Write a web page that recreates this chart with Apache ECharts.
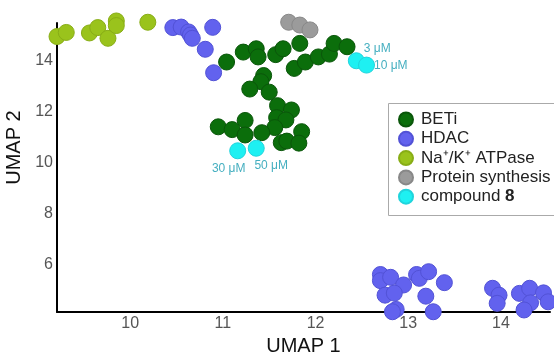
<!DOCTYPE html>
<html>
<head>
<meta charset="utf-8">
<script src="https://cdn.jsdelivr.net/npm/echarts@6/dist/echarts.min.js"></script>
<style>
    html, body { margin: 0; padding: 0; background: #fff; }
    #chartWrap { width: 554px; height: 356px; }
</style>
</head>
<body>
<div id="chartWrap"></div>
<script>
// UMAP coordinates
const betiPoints = [
    [11.04, 13.96], [11.22, 14.35], [11.36, 14.48], [11.38, 14.16], [11.57, 14.25],
    [11.65, 14.48], [11.83, 14.69], [11.77, 13.71], [11.89, 13.96], [12.03, 14.16],
    [12.15, 14.27], [12.20, 14.69], [12.34, 14.56], [11.44, 13.43], [11.41, 13.19],
    [11.29, 12.90], [11.50, 12.78], [11.59, 12.25], [11.74, 12.08], [11.58, 11.78],
    [11.68, 11.69], [11.56, 11.39], [11.24, 11.67], [10.95, 11.42], [11.10, 11.31],
    [11.24, 11.10], [11.42, 11.19], [11.63, 10.80], [11.69, 10.86], [11.85, 11.23],
    [11.82, 10.78]
];
const hdacPoints = [
    [10.46, 15.31], [10.55, 15.33], [10.63, 15.14], [10.65, 15.02], [10.67, 14.89],
    [10.89, 15.32], [10.81, 14.46], [10.90, 13.54],
    [12.70, 5.63], [12.70, 5.39], [12.81, 5.52], [12.95, 5.22], [13.09, 5.63],
    [13.12, 5.48], [13.22, 5.74], [13.39, 5.31], [12.75, 4.82], [12.85, 4.90],
    [13.19, 4.78], [12.87, 4.26], [12.83, 4.17], [13.27, 4.17],
    [13.91, 5.09], [13.98, 4.82], [13.96, 4.50], [14.20, 4.89], [14.31, 5.09],
    [14.32, 4.52], [14.25, 4.24], [14.46, 4.91], [14.51, 4.56]
];
const naKPoints = [
    [9.21, 14.96], [9.31, 15.12], [9.56, 15.10], [9.65, 15.31], [9.76, 14.89],
    [9.85, 15.57], [9.85, 15.39], [10.19, 15.52]
];
const proteinPoints = [[11.71, 15.52], [11.83, 15.41], [11.94, 15.22]];
const compoundPoints = [[12.44, 14.01], [12.55, 13.84], [11.16, 10.48], [11.36, 10.58]];
const doseLabels = ['3 μM', '10 μM', '30 μM', '50 μM'];

const xTicks = [10, 11, 12, 13, 14];
const yTicks = [6, 8, 10, 12, 14];

const seriesNames = ['BETi', 'HDAC', 'Na⁺/K⁺ ATPase', 'Protein synthesis', 'compound 8'];

const font = 'Liberation Sans, Arial, sans-serif';
const myChart = echarts.init(document.getElementById('chartWrap'));

function dots(name, data, fill, edge) {
    return {
        name: name,
        type: 'scatter',
        data: data,
        symbolSize: 16,
        clip: false,
        itemStyle: {color: fill, borderColor: edge, borderWidth: 1, opacity: 1},
        emphasis: {disabled: true}
    };
}

// label placement for the dose labels (3, 10, 30, 50 uM)
const labelPlace = [
    {position: 'right', distance: 0, offset: [-1, -12]},
    {position: 'right', distance: 0, offset: [-1, 1]},
    {position: 'bottom', distance: 3, offset: [-9, 0]},
    {position: 'bottom', distance: 3, offset: [15, 0]}
];
const compoundData = compoundPoints.map(function (p, i) {
    return {
        value: p,
        label: Object.assign({
            show: true,
            formatter: doseLabels[i],
            color: '#45afc0',
            fontSize: 12,
            fontFamily: font
        }, labelPlace[i])
    };
});

const option = {
    animation: false,
    backgroundColor: '#fff',
    grid: {left: 57, right: 4, top: 23, bottom: 44, containLabel: false, outerBoundsMode: 'none'},
    // legend frame runs past the right edge of the picture
    graphic: [{
        type: 'rect',
        left: 388,
        top: 103,
        shape: {width: 200, height: 112},
        style: {fill: '#fff', stroke: '#aaa', lineWidth: 1},
        z: 3
    }],
    xAxis: {
        type: 'value',
        min: 9.21,
        max: 14.53,
        name: 'UMAP 1',
        nameLocation: 'middle',
        nameGap: 19,
        nameTextStyle: {color: '#111', fontSize: 20, fontFamily: font},
        axisLine: {show: true, lineStyle: {color: '#000', width: 2}},
        axisTick: {show: false},
        splitLine: {show: false},
        axisLabel: {customValues: xTicks, color: '#555', fontSize: 16, fontFamily: font, margin: 4}
    },
    yAxis: {
        type: 'value',
        min: 4.16,
        max: 15.49,
        name: 'UMAP 2',
        nameLocation: 'middle',
        nameGap: 27,
        nameTextStyle: {color: '#111', fontSize: 20, fontFamily: font, padding: [0, 0, 0, 40]},
        axisLine: {show: true, lineStyle: {color: '#000', width: 2}},
        axisTick: {show: false},
        splitLine: {show: false},
        axisLabel: {customValues: yTicks, color: '#555', fontSize: 16, fontFamily: font, margin: 4}
    },
    legend: {
        data: seriesNames,
        orient: 'vertical',
        left: 388,
        top: 103,
        z: 4,
        padding: [8, 0, 10, 10],
        itemWidth: 14,
        itemHeight: 14,
        itemGap: 2.3,
        selectedMode: false,
        icon: 'circle',
        formatter: function (name) {
            return name === 'compound 8' ? 'compound {b|8}' : name;
        },
        textStyle: {
            color: '#222',
            fontSize: 17,
            fontFamily: font,
            lineHeight: 17,
            padding: [0, 0, 0, 3],
            rich: {b: {fontWeight: 'bold', fontSize: 17, fontFamily: font, color: '#222'}}
        }
    },
    series: [
        dots(seriesNames[0], betiPoints, '#0b6e0b', '#0a560a'),
        dots(seriesNames[1], hdacPoints, '#6262ee', '#5252d6'),
        dots(seriesNames[2], naKPoints, '#9ac31c', '#88ad16'),
        dots(seriesNames[3], proteinPoints, '#9b9b9b', '#888'),
        dots(seriesNames[4], compoundData, '#1ef0f2', '#20d4dc')
    ]
};

myChart.setOption(option);
</script>
</body>
</html>
